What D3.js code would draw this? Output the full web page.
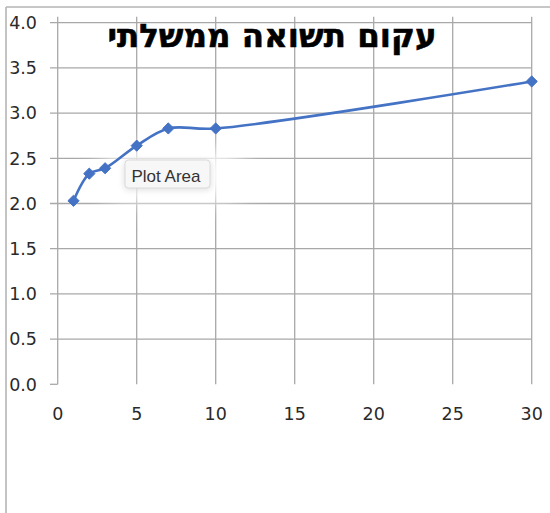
<!DOCTYPE html>
<html>
<head>
<meta charset="utf-8">
<script src="https://cdn.jsdelivr.net/npm/d3@7/dist/d3.min.js"></script>
<style>
  html, body { margin: 0; padding: 0; background: #fff; }
  svg { display: block; }
</style>
</head>
<body>
<svg id="chart" width="550" height="513"></svg>
<script>
// Government yield curve: maturity (years) vs yield (%)
const title = "עקום תשואה ממשלתי";
const maturities = [1, 2, 3, 5, 7, 10, 30];
const yields = [2.03, 2.33, 2.39, 2.64, 2.83, 2.83, 3.35];
const xTicks = [0, 5, 10, 15, 20, 25, 30];
const yTicks = [0, 0.5, 1, 1.5, 2, 2.5, 3, 3.5, 4];
const tooltipText = "Plot Area";

const svg = d3.select("#chart");
const W = 550, H = 513;

const x = d3.scaleLinear().domain([0, 30]).range([57.7, 531.7]);
const y = d3.scaleLinear().domain([0, 4]).range([384.3, 22.7]);

const gridColor = "#a8a8a8";
const labelColor = "#2a2a2a";

const defs = svg.append("defs");
defs.append("filter").attr("id", "halo").attr("x", "-100%").attr("y", "-150%")
  .attr("width", "300%").attr("height", "400%")
  .append("feGaussianBlur").attr("stdDeviation", 13);
defs.append("filter").attr("id", "shadow").attr("x", "-50%").attr("y", "-50%")
  .attr("width", "200%").attr("height", "200%")
  .append("feGaussianBlur").attr("stdDeviation", 3);

// Chart frame (top and left edges visible)
svg.append("line").attr("x1", 6).attr("x2", W).attr("y1", 7).attr("y2", 7)
  .attr("stroke", "#b4b4b4").attr("stroke-width", 1.6);
svg.append("line").attr("x1", 6).attr("x2", 6).attr("y1", 7).attr("y2", H)
  .attr("stroke", "#b4b4b4").attr("stroke-width", 1.6);

// Horizontal gridlines with short outer ticks
const grid = svg.append("g").attr("stroke", gridColor).attr("stroke-width", 1.3);
grid.selectAll("line.h").data(yTicks).join("line")
  .attr("class", "h")
  .attr("x1", 50)
  .attr("x2", d => d === 0 ? x(0) : x(30))
  .attr("y1", d => y(d)).attr("y2", d => y(d));

// Vertical gridlines
grid.selectAll("line.v").data(xTicks).join("line")
  .attr("class", "v")
  .attr("x1", d => x(d)).attr("x2", d => x(d))
  .attr("y1", y(0)).attr("y2", y(4) - 6);

// Axis labels
svg.append("g").selectAll("text").data(yTicks).join("text")
  .attr("x", 37).attr("y", d => y(d)).attr("dy", "0.36em")
  .attr("text-anchor", "end")
  .attr("font-family", "DejaVu Sans, sans-serif").attr("font-size", 17.5)
  .attr("fill", labelColor)
  .text(d => d3.format(".1f")(d));

svg.append("g").selectAll("text").data(xTicks).join("text")
  .attr("x", d => x(d)).attr("y", 420)
  .attr("text-anchor", "middle")
  .attr("font-family", "DejaVu Sans, sans-serif").attr("font-size", 17.5)
  .attr("fill", labelColor)
  .text(d => d);

// Title
svg.append("text")
  .attr("x", 272).attr("y", 47)
  .attr("text-anchor", "middle")
  .attr("font-family", "DejaVu Sans, sans-serif").attr("font-weight", "bold")
  .attr("font-size", 32.5).attr("fill", "#000")
  .attr("stroke", "#000").attr("stroke-width", 0.6)
  .text(title);

// Soft halo behind the hover tooltip (fades the gridlines around it)
svg.append("rect").attr("x", 100).attr("y", 150).attr("width", 145).attr("height", 50)
  .attr("rx", 22).attr("fill", "#ffffff").attr("opacity", 0.97).attr("filter", "url(#halo)");

// Smoothed series line
const pts = maturities.map((m, i) => [m, yields[i]]);
const line = d3.line().x(d => x(d[0])).y(d => y(d[1])).curve(d3.curveCatmullRom.alpha(0.5));
svg.append("path").datum(pts)
  .attr("d", line)
  .attr("fill", "none").attr("stroke", "#4472C4").attr("stroke-width", 2.6)
  .attr("stroke-linejoin", "round");

// Diamond markers
const r = 5.6;
svg.append("g").selectAll("path").data(pts).join("path")
  .attr("transform", d => `translate(${x(d[0])},${y(d[1])})`)
  .attr("d", `M0,${-r}L${r},0L0,${r}L${-r},0Z`)
  .attr("fill", "#4472C4").attr("stroke", "#4472C4").attr("stroke-width", 1);

// Hover tooltip
const tip = svg.append("g");
tip.append("rect").attr("x", 124).attr("y", 161).attr("width", 87).attr("height", 29)
  .attr("rx", 4).attr("fill", "#000").attr("opacity", 0.12).attr("filter", "url(#shadow)");
tip.append("rect").attr("x", 125).attr("y", 160).attr("width", 85).attr("height", 28)
  .attr("rx", 3.5).attr("fill", "#f7f7f7").attr("stroke", "#dadada").attr("stroke-width", 1);
tip.append("text").attr("x", 166).attr("y", 182)
  .attr("text-anchor", "middle")
  .attr("font-family", "Liberation Sans, Arial, sans-serif").attr("font-size", 17)
  .attr("fill", "#333").text(tooltipText);
</script>
</body>
</html>
